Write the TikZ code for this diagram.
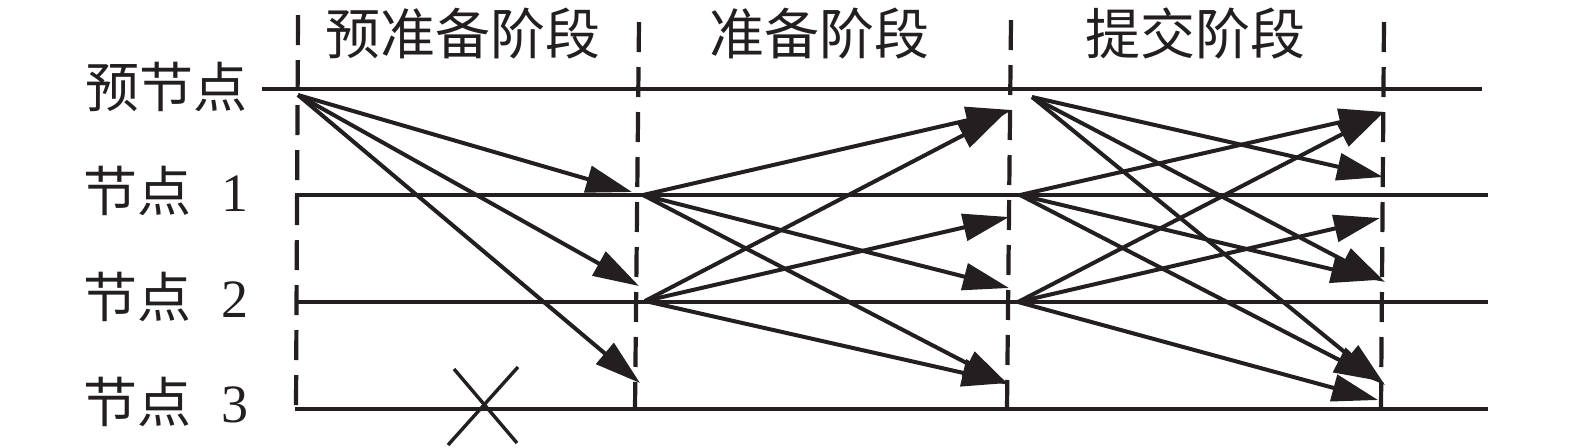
\documentclass[tikz,border=0pt]{standalone}
\usepackage{fontspec}
\setmainfont{Liberation Serif}
\newfontfamily\cjk{Noto Sans CJK SC}
\usetikzlibrary{arrows.meta}
\definecolor{ink}{HTML}{231F20}
\begin{document}
\begin{tikzpicture}[x=0.5pt,y=-0.5pt,
  lane/.style={line width=2.1pt, draw=ink},
  phase/.style={line width=2.1pt, draw=ink, dash pattern=on 15pt off 7.5pt},
  msg/.style={line width=2pt, draw=ink, -{Triangle[length=23pt,width=13.5pt]}, fill=ink},
  stagelbl/.style={font=\fontsize{27.5}{30}\selectfont\cjk, inner sep=0pt, text=ink},
  rowlbl/.style={font=\fontsize{27}{30}\selectfont, inner sep=0pt, text=ink},
  cross/.style={line width=1.7pt, draw=ink}]
\useasboundingbox (0,0) rectangle (1575,447);

% stage labels
\node[stagelbl] (s1) at (463,34) {预准备阶段};
\node[stagelbl] (s2) at (819,34) {准备阶段};
\node[stagelbl] (s3) at (1195,33) {提交阶段};

% row labels
\node[rowlbl] (r0) at (166,87) {\cjk 预节点};
\node[rowlbl] (r1) at (166,191) {{\cjk 节点}\hspace{0.55em}1};
\node[rowlbl] (r2) at (166,297) {{\cjk 节点}\hspace{0.55em}2};
\node[rowlbl] (r3) at (166,402) {{\cjk 节点}\hspace{0.55em}3};

% lanes
\coordinate (l0a) at (262,89);  \coordinate (l0b) at (1482,89);
\coordinate (l1a) at (295,195); \coordinate (l1b) at (1488,195);
\coordinate (l2a) at (295,302); \coordinate (l2b) at (1488,302);
\coordinate (l3a) at (295,409); \coordinate (l3b) at (1488,409);
\draw[lane] (l0a) -- (l0b);
\draw[lane] (l1a) -- (l1b);
\draw[lane] (l2a) -- (l2b);
\draw[lane] (l3a) -- (l3b);

% phase separators
\coordinate (v0a) at (298,15);   \coordinate (v0b) at (296,409);
\coordinate (v1a) at (639,22);   \coordinate (v1b) at (635,409);
\coordinate (v2a) at (1011,20);  \coordinate (v2b) at (1007,409);
\coordinate (v3a) at (1384,22);  \coordinate (v3b) at (1381,409);
\draw[phase] (v0a) -- (v0b);
\draw[phase] (v1a) -- (v1b);
\draw[phase] (v2a) -- (v2b);
\draw[phase] (v3a) -- (v3b);

% pre-prepare
\coordinate (P) at (298,95);
\coordinate (p1) at (632,192);
\coordinate (p2) at (639,286);
\coordinate (p3) at (640,383);
\draw[msg] (P) -- (p1);
\draw[msg] (P) -- (p2);
\draw[msg] (P) -- (p3);

% prepare
\coordinate (A) at (643,195);
\coordinate (B) at (645,301);
\coordinate (a0) at (1012,110);
\coordinate (a2) at (1009,288);
\coordinate (a3) at (1009,385);
\coordinate (b0) at (1004,114);
\coordinate (b1) at (1009,217);
\coordinate (b3) at (1008,383);
\draw[msg] (A) -- (a0);
\draw[msg] (A) -- (a2);
\draw[msg] (A) -- (a3);
\draw[msg] (B) -- (b0);
\draw[msg] (B) -- (b1);
\draw[msg] (B) -- (b3);

% commit
\coordinate (C) at (1032,97);
\coordinate (D) at (1020,195);
\coordinate (E) at (1018,302);
\coordinate (c1) at (1383,177);
\coordinate (c2) at (1385,282);
\coordinate (c3) at (1385,385);
\coordinate (d0) at (1385,112);
\coordinate (d2) at (1377,280);
\coordinate (d3) at (1380,381);
\coordinate (e0) at (1383,113);
\coordinate (e1) at (1380,218);
\coordinate (e3) at (1378,400);
\draw[msg] (C) -- (c1);
\draw[msg] (C) -- (c2);
\draw[msg] (C) -- (c3);
\draw[msg] (D) -- (d0);
\draw[msg] (D) -- (d2);
\draw[msg] (D) -- (d3);
\draw[msg] (E) -- (e0);
\draw[msg] (E) -- (e1);
\draw[msg] (E) -- (e3);

% faulty node cross
\coordinate (x1a) at (454,369); \coordinate (x1b) at (517,443);
\coordinate (x2a) at (518,367); \coordinate (x2b) at (448,445);
\draw[cross] (x1a) -- (x1b);
\draw[cross] (x2a) -- (x2b);
\end{tikzpicture}
\end{document}
